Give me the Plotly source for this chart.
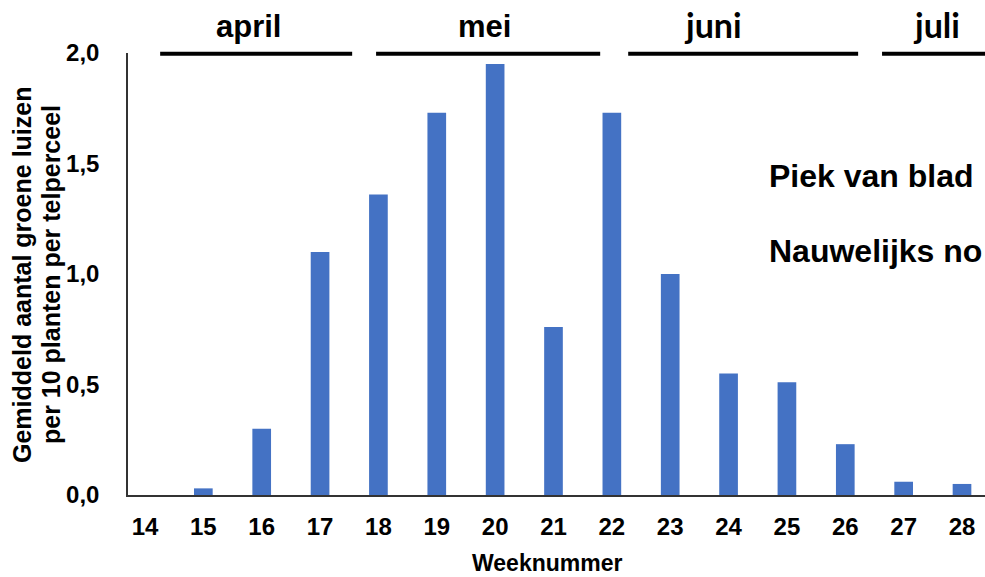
import plotly.graph_objects as go

weeks = [14, 15, 16, 17, 18, 19, 20, 21, 22, 23, 24, 25, 26, 27, 28]
values = [0.0, 0.03, 0.30, 1.10, 1.36, 1.73, 1.95, 0.76, 1.73, 1.00, 0.55, 0.51, 0.23, 0.06, 0.05]
y_tickvals = [0.0, 0.5, 1.0, 1.5, 2.0]
y_ticktext = ["0,0", "0,5", "1,0", "1,5", "2,0"]

months = ["april", "mei", "juni", "juli"]
month_start = [14.26, 17.96, 22.28, 26.63]
month_end = [17.55, 21.80, 26.22, 28.8]
month_center = [15.77, 19.81, 23.74, 27.57]
month_fonts = ["Arial, Liberation Sans", "Arial, Liberation Sans", "Lato", "Lato"]
month_sizes = [31, 31, 34, 34]
month_ypx = [27, 27, 24, 24]

notes = ["Piek van blad", "Nauwelijks no"]
ytitle_lines = ["Gemiddeld aantal groene luizen", "per 10 planten per telperceel"]

FONT = "Arial, Liberation Sans"

fig = go.Figure()
fig.add_trace(go.Bar(
    x=weeks, y=values, width=0.32,
    marker=dict(color="#4472C4", line=dict(width=0)),
))

W, H = 985, 577
L, R, T, B = 128, 0, 53, 82
pw = W - L - R
ph = H - T - B

def px_x(p):
    return (p - L) / pw

def px_y(p):
    return (H - B - p) / ph

annotations = []
shapes = []
for name, s, e, c, f, sz, yp in zip(months, month_start, month_end, month_center, month_fonts, month_sizes, month_ypx):
    shapes.append(dict(type="line", xref="x", yref="paper", x0=s, x1=e,
                       y0=px_y(53.7), y1=px_y(53.7),
                       line=dict(color="black", width=4)))
    annotations.append(dict(text="<b>%s</b>" % name, xref="x", yref="paper",
                            x=c, y=px_y(yp), xanchor="center", yanchor="middle",
                            showarrow=False, font=dict(family=f, size=sz, color="black")))

for txt, yp in zip(notes, [176, 251]):
    annotations.append(dict(text="<b>%s</b>" % txt, xref="paper", yref="paper",
                            x=px_x(767), y=px_y(yp), xanchor="left", yanchor="middle",
                            showarrow=False, font=dict(family=FONT, size=32, color="black")))

for txt, xp in zip(ytitle_lines, [22, 51]):
    annotations.append(dict(text="<b>%s</b>" % txt,
                            xref="paper", yref="paper", x=px_x(xp), y=px_y(275),
                            xanchor="center", yanchor="middle", textangle=-90, showarrow=False,
                            font=dict(family=FONT, size=25, color="black")))
annotations.append(dict(text="<b>Weeknummer</b>", xref="paper", yref="paper",
                        x=px_x(547), y=px_y(563), xanchor="center", yanchor="middle",
                        showarrow=False, font=dict(family=FONT, size=23, color="black")))

fig.update_layout(
    width=W, height=H,
    margin=dict(l=L, r=R, t=T, b=B, pad=0),
    plot_bgcolor="white", paper_bgcolor="white",
    showlegend=False,
    shapes=shapes, annotations=annotations,
    xaxis=dict(range=[13.709, 28.394], tickvals=weeks, ticktext=["<b>%d</b>" % w for w in weeks],
               showgrid=False, zeroline=False, showline=True, linecolor="#333333", linewidth=1.5,
               ticks="", ticklabelstandoff=9,
               tickfont=dict(family=FONT, size=24, color="black")),
    yaxis=dict(range=[0, 2.0], tickvals=y_tickvals, ticktext=["<b>%s</b>" % t for t in y_ticktext],
               showgrid=False, zeroline=False, showline=True, linecolor="#333333", linewidth=1.5,
               ticks="", ticklabelstandoff=22,
               tickfont=dict(family=FONT, size=24, color="black")),
)

fig.write_html("out.html", config={"displayModeBar": False},
               post_script="document.body.style.margin='0';document.body.style.overflow='hidden';")
